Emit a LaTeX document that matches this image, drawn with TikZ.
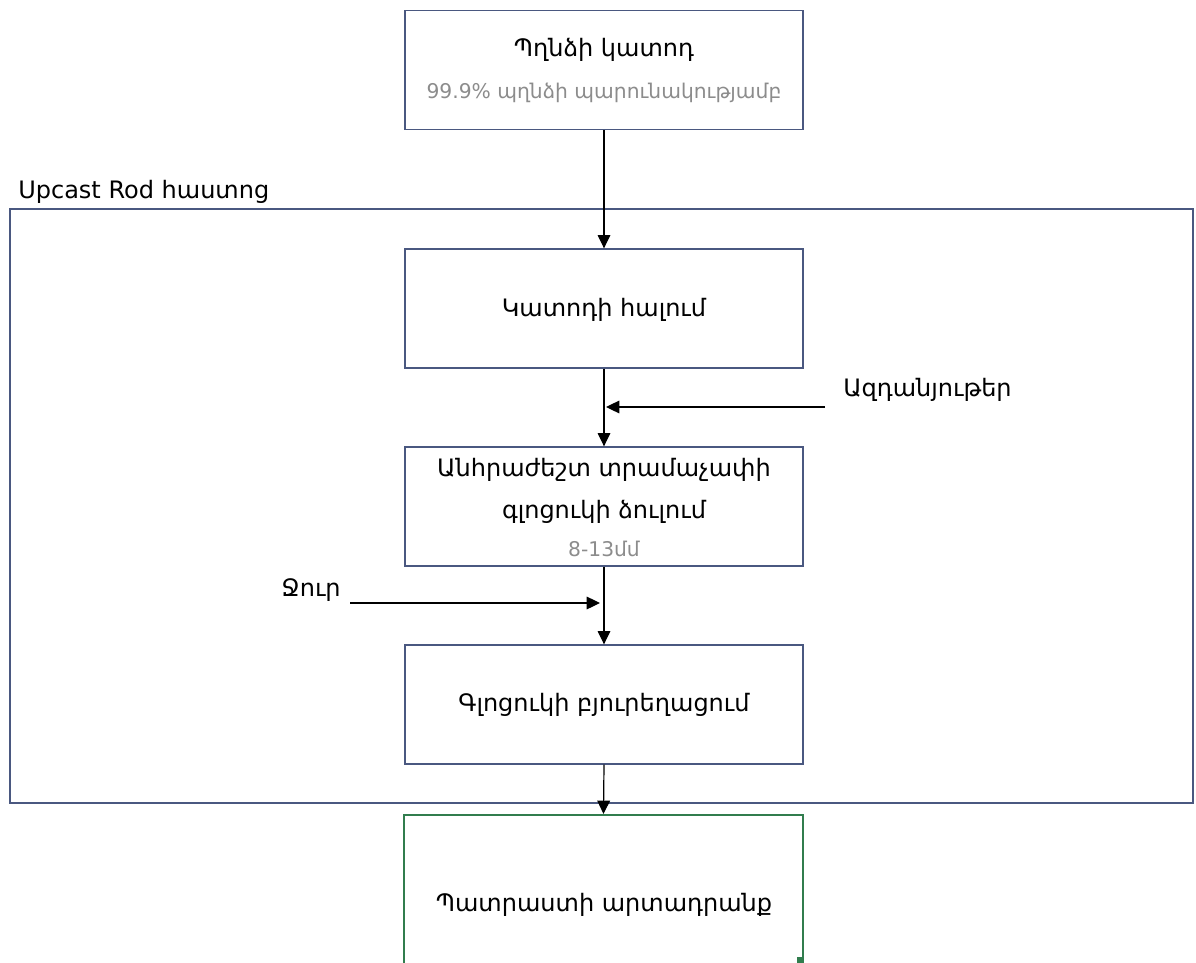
\documentclass[tikz,border=0pt]{standalone}
\usepackage{fontspec}
\setmainfont{DejaVu Sans}
\usetikzlibrary{arrows.meta}
\definecolor{boxblue}{HTML}{4A5880}
\definecolor{boxgreen}{HTML}{317D4E}
\definecolor{subgray}{HTML}{8C8C8C}
\begin{document}
\begin{tikzpicture}[x=0.75pt,y=-0.75pt,
  box/.style={draw=boxblue,line width=1pt,minimum width=298.5pt,minimum height=89.25pt,inner sep=0pt},
  endbox/.style={draw=boxgreen,line width=1.5pt,minimum width=299.25pt,minimum height=112.5pt,inner sep=0pt},
  main/.style={font=\fontsize{18}{21}\selectfont,text=black,inner sep=0pt},
  sub/.style={font=\fontsize{15.2}{18}\selectfont,text=subgray,inner sep=0pt},
  arr/.style={line width=0.9pt,-{Triangle[length=10pt,width=9.5pt]}}]
\useasboundingbox (0,0) rectangle (1196,963);
% container
\draw[boxblue,line width=1pt] (10,209) rectangle (1193,803);
\node[main,anchor=base west] (syslabel) at (18,199) {Upcast Rod հաստոց};
% boxes
\node[box] (b1) at (604,70) {};
\node[main] (t1) at (604,50) {Պղնձի կատոդ};
\node[sub] (s1) at (604,93) {99.9\% պղնձի պարունակությամբ};
\node[box] (b2) at (604,308.5) {};
\node[main] (t2) at (604,310) {Կատոդի հալում};
\node[box] (b3) at (604,506.5) {};
\node[main] (t3a) at (604,470) {Անհրաժեշտ տրամաչափի};
\node[main] (t3b) at (604,512) {գլոցուկի ձուլում};
\node[sub] (s3) at (604,549) {8-13մմ};
\node[box] (b4) at (604,704.5) {};
\node[main] (t4) at (604,705) {Գլոցուկի բյուրեղացում};
\node[endbox] (b5) at (603.5,890) {};
\node[main] (t5) at (604,905) {Պատրաստի արտադրանք};
\fill[boxgreen] (797,957) rectangle (804,963);
% side inputs
\node[main,anchor=west] (add) at (843,390) {Ազդանյութեր};
\coordinate (addstart) at (825,407);
\coordinate (addend) at (606,407);
\node[main] (water) at (311,590) {Ջուր};
\coordinate (wstart) at (350,603);
\coordinate (wend) at (600,603);
% connectors
\draw[arr] (b1.south) -- (b2.north);
\draw[arr] (b2.south) -- (b3.north);
\draw[arr] (b3.south) -- (b4.north);
\draw[arr] (b4.south) -- (b5.north);
\draw[arr] (addstart) -- (addend);
\draw[arr] (wstart) -- (wend);
\end{tikzpicture}
\end{document}
